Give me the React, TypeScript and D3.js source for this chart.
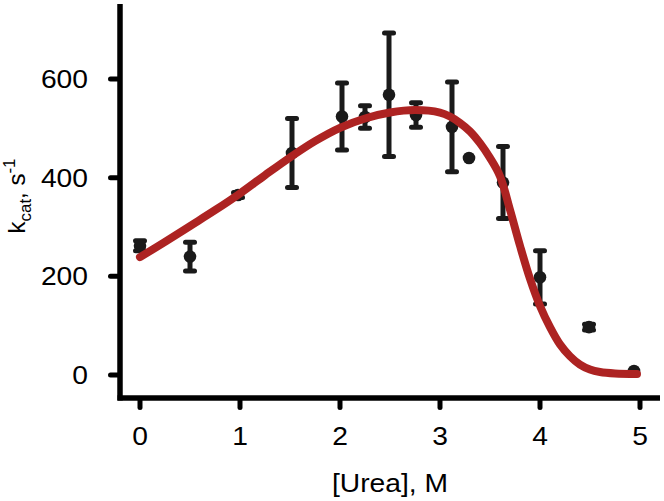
import React from "react";
import * as d3 from "d3";

// Measured data points
const ureaM = [0, 0.5, 0.98, 1.52, 2.02, 2.25, 2.49, 2.76, 3.12, 3.29, 3.63, 4.0, 4.49, 4.94];
const kcat = [262, 240, 365, 450, 524, 523, 568, 527, 503, 440, 390, 198, 97, 8];
const kcatErr = [10, 29, 5, 70, 68, 23, 125, 25, 91, 0, 73, 54, 6, 0];

// Fitted curve
const fitX = [0, 0.25, 0.5, 0.75, 1.0, 1.25, 1.5, 1.75, 2.0, 2.25, 2.5, 2.75, 3.0, 3.1, 3.2, 3.3, 3.4, 3.5, 3.6, 3.7, 3.8, 3.9, 4.0, 4.1, 4.2, 4.3, 4.4, 4.5, 4.6, 4.75, 4.97];
const fitY = [239, 270, 302, 334, 368, 405, 441, 474, 501, 520, 532, 537, 532, 524, 511, 494, 470, 440, 403, 335, 262, 195, 140, 97, 62, 38, 21, 11, 6, 3, 2];

const xTicks = [0, 1, 2, 3, 4, 5];
const yTicks = [0, 200, 400, 600];

export default function App() {
  const x = d3.scaleLinear().domain([0, 5]).range([140, 640]);
  const y = d3.scaleLinear().domain([0, 600]).range([375, 79]);

  const line = d3
    .line<number>()
    .x((_, i) => x(fitX[i]))
    .y((d) => y(d))
    .curve(d3.curveCatmullRom.alpha(0.5));

  const font = "Liberation Sans, Arial, Helvetica, sans-serif";
  const markColor = "#1a1a1a";
  const sx = 1.13;

  return (
    <svg
      width={664}
      height={501}
      style={{ position: "absolute", left: 0, top: 0, background: "#fff" }}
      fontFamily={font}
    >
      {/* axes */}
      <line x1={120} y1={4} x2={120} y2={400.5} stroke="#000" strokeWidth={5.5} />
      <line x1={117.5} y1={398} x2={660} y2={398} stroke="#000" strokeWidth={5.5} />
      {xTicks.map((t) => (
        <g key={"xt" + t}>
          <line x1={x(t)} y1={399} x2={x(t)} y2={407.5} stroke="#000" strokeWidth={5} strokeLinecap="round" />
          <g transform={`translate(${x(t)},445) scale(${sx},1)`}>
            <text textAnchor="middle" fontSize={25} fill="#000">
              {t}
            </text>
          </g>
        </g>
      ))}
      {yTicks.map((t) => (
        <g key={"yt" + t}>
          <line x1={119} x2={110.5} y1={y(t)} y2={y(t)} stroke="#000" strokeWidth={5} strokeLinecap="round" />
          <g transform={`translate(88,${y(t) + 9}) scale(${sx},1)`}>
            <text textAnchor="end" fontSize={25} fill="#000">
              {t}
            </text>
          </g>
        </g>
      ))}
      <g transform={`translate(390,492) scale(${sx},1)`}>
        <text textAnchor="middle" fontSize={25} fill="#000">
          [Urea], M
        </text>
      </g>
      <g transform="translate(25,196) rotate(-90)">
        <text textAnchor="middle" fontSize={24} fill="#000">
          <tspan>k</tspan>
          <tspan fontSize={17} dy={6}>cat</tspan>
          <tspan dy={-6}>, s</tspan>
          <tspan fontSize={17} dy={-10}>-1</tspan>
        </text>
      </g>

      {/* error bars and points */}
      {ureaM.map((u, i) => {
        const cx = x(u);
        const e = kcatErr[i];
        const top = y(kcat[i] + e);
        const bot = y(kcat[i] - e);
        return (
          <g key={"p" + i}>
            {e > 0 && (
              <>
                <line x1={cx} x2={cx} y1={top} y2={bot} stroke={markColor} strokeWidth={5} />
                <line x1={cx - 4.5} x2={cx + 4.5} y1={top} y2={top} stroke={markColor} strokeWidth={5} strokeLinecap="round" />
                <line x1={cx - 4.5} x2={cx + 4.5} y1={bot} y2={bot} stroke={markColor} strokeWidth={5} strokeLinecap="round" />
              </>
            )}
            <circle cx={cx} cy={y(kcat[i])} r={6.3} fill={markColor} />
          </g>
        );
      })}

      {/* fitted curve */}
      <path d={line(fitY) || ""} fill="none" stroke="#ad2322" strokeWidth={8} strokeLinecap="round" strokeLinejoin="round" />
    </svg>
  );
}
